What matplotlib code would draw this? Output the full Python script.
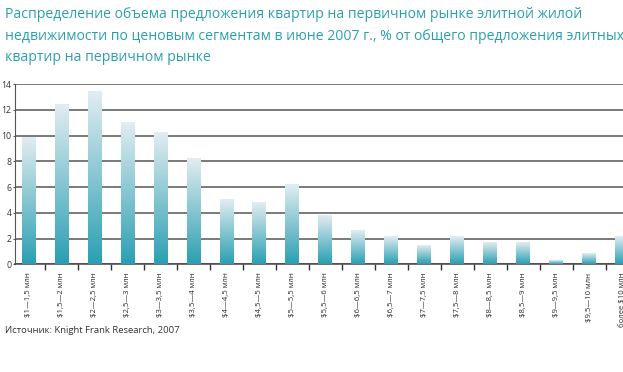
import numpy as np
import matplotlib.pyplot as plt
from matplotlib.colors import LinearSegmentedColormap

plt.rcParams['font.family'] = ['Open Sans', 'DejaVu Sans']

# Data
segments = ["$1—1,5 млн", "$1,5—2 млн", "$2—2,5 млн", "$2,5—3 млн", "$3—3,5 млн",
            "$3,5—4 млн", "$4—4,5 млн", "$4,5—5 млн", "$5—5,5 млн", "$5,5—6 млн",
            "$6—6,5 млн", "$6,5—7 млн", "$7—7,5 млн", "$7,5—8 млн", "$8—8,5 млн",
            "$8,5—9 млн", "$9—9,5 млн", "$9,5—10 млн", "более $10 млн"]
share = [9.8, 12.4, 13.4, 11.0, 10.2, 8.2, 5.0, 4.8, 6.2, 3.8,
         2.6, 2.1, 1.4, 2.1, 1.7, 1.7, 0.25, 0.8, 2.1]
yticks = [0, 2, 4, 6, 8, 10, 12, 14]

title = ("Распределение объема предложения квартир на первичном рынке элитной жилой\n"
         "недвижимости по ценовым сегментам в июне 2007 г., % от общего предложения элитных\n"
         "квартир на первичном рынке")
source = "Источник: Knight Frank Research, 2007"

teal = "#2a9fb2"
grad = LinearSegmentedColormap.from_list("bar", [teal, "#e2edf1"])

fig = plt.figure(figsize=(6.23, 3.72), dpi=100)
ax = fig.add_axes([0.024, 0.2895, 0.976, 0.4845])

x = np.arange(len(share))
bars = ax.bar(x, share, width=0.42, color="none", edgecolor="none", zorder=3)

# fill every bar with a vertical gradient, light at the top
g = np.linspace(0, 1, 256).reshape(-1, 1)
for b in bars:
    x0, y0 = b.get_x(), b.get_y()
    ax.imshow(g, cmap=grad, origin="lower", aspect="auto", zorder=3,
              extent=[x0, x0 + b.get_width(), y0, y0 + b.get_height()],
              interpolation="bilinear")

ax.set_xlim(-0.415, 18.03)
ax.set_ylim(0, 14)
ax.set_yticks(yticks)
ax.set_yticklabels([str(v) for v in yticks], fontsize=6.3, color="#333333")
ax.yaxis.grid(True, color="#555555", linewidth=1.1, zorder=0)
ax.set_axisbelow(True)

ax.set_xticks(x)
ax.set_xticklabels(segments, rotation=90, fontsize=5.6, color="#2a2a2a")
ax.tick_params(axis="x", length=0, pad=6)
ax.set_xticks(x[:-1] + 0.5, minor=True)
ax.tick_params(axis="x", which="minor", length=4, width=1, color="#333333")
ax.tick_params(axis="y", length=1.5, width=0.8, color="#555555", pad=1)

for s in ["top", "right"]:
    ax.spines[s].set_visible(False)
ax.spines["left"].set_color("#555555")
ax.spines["bottom"].set_color("#444444")
ax.spines["bottom"].set_linewidth(1.1)

fig.text(0.008, 0.982, title, ha="left", va="top", fontsize=10.1, color=teal,
         linespacing=1.62)
fig.text(0.008, 0.112, source, ha="left", va="center", fontsize=6.8, color="#333333")

fig.savefig("out.png", dpi=100)
